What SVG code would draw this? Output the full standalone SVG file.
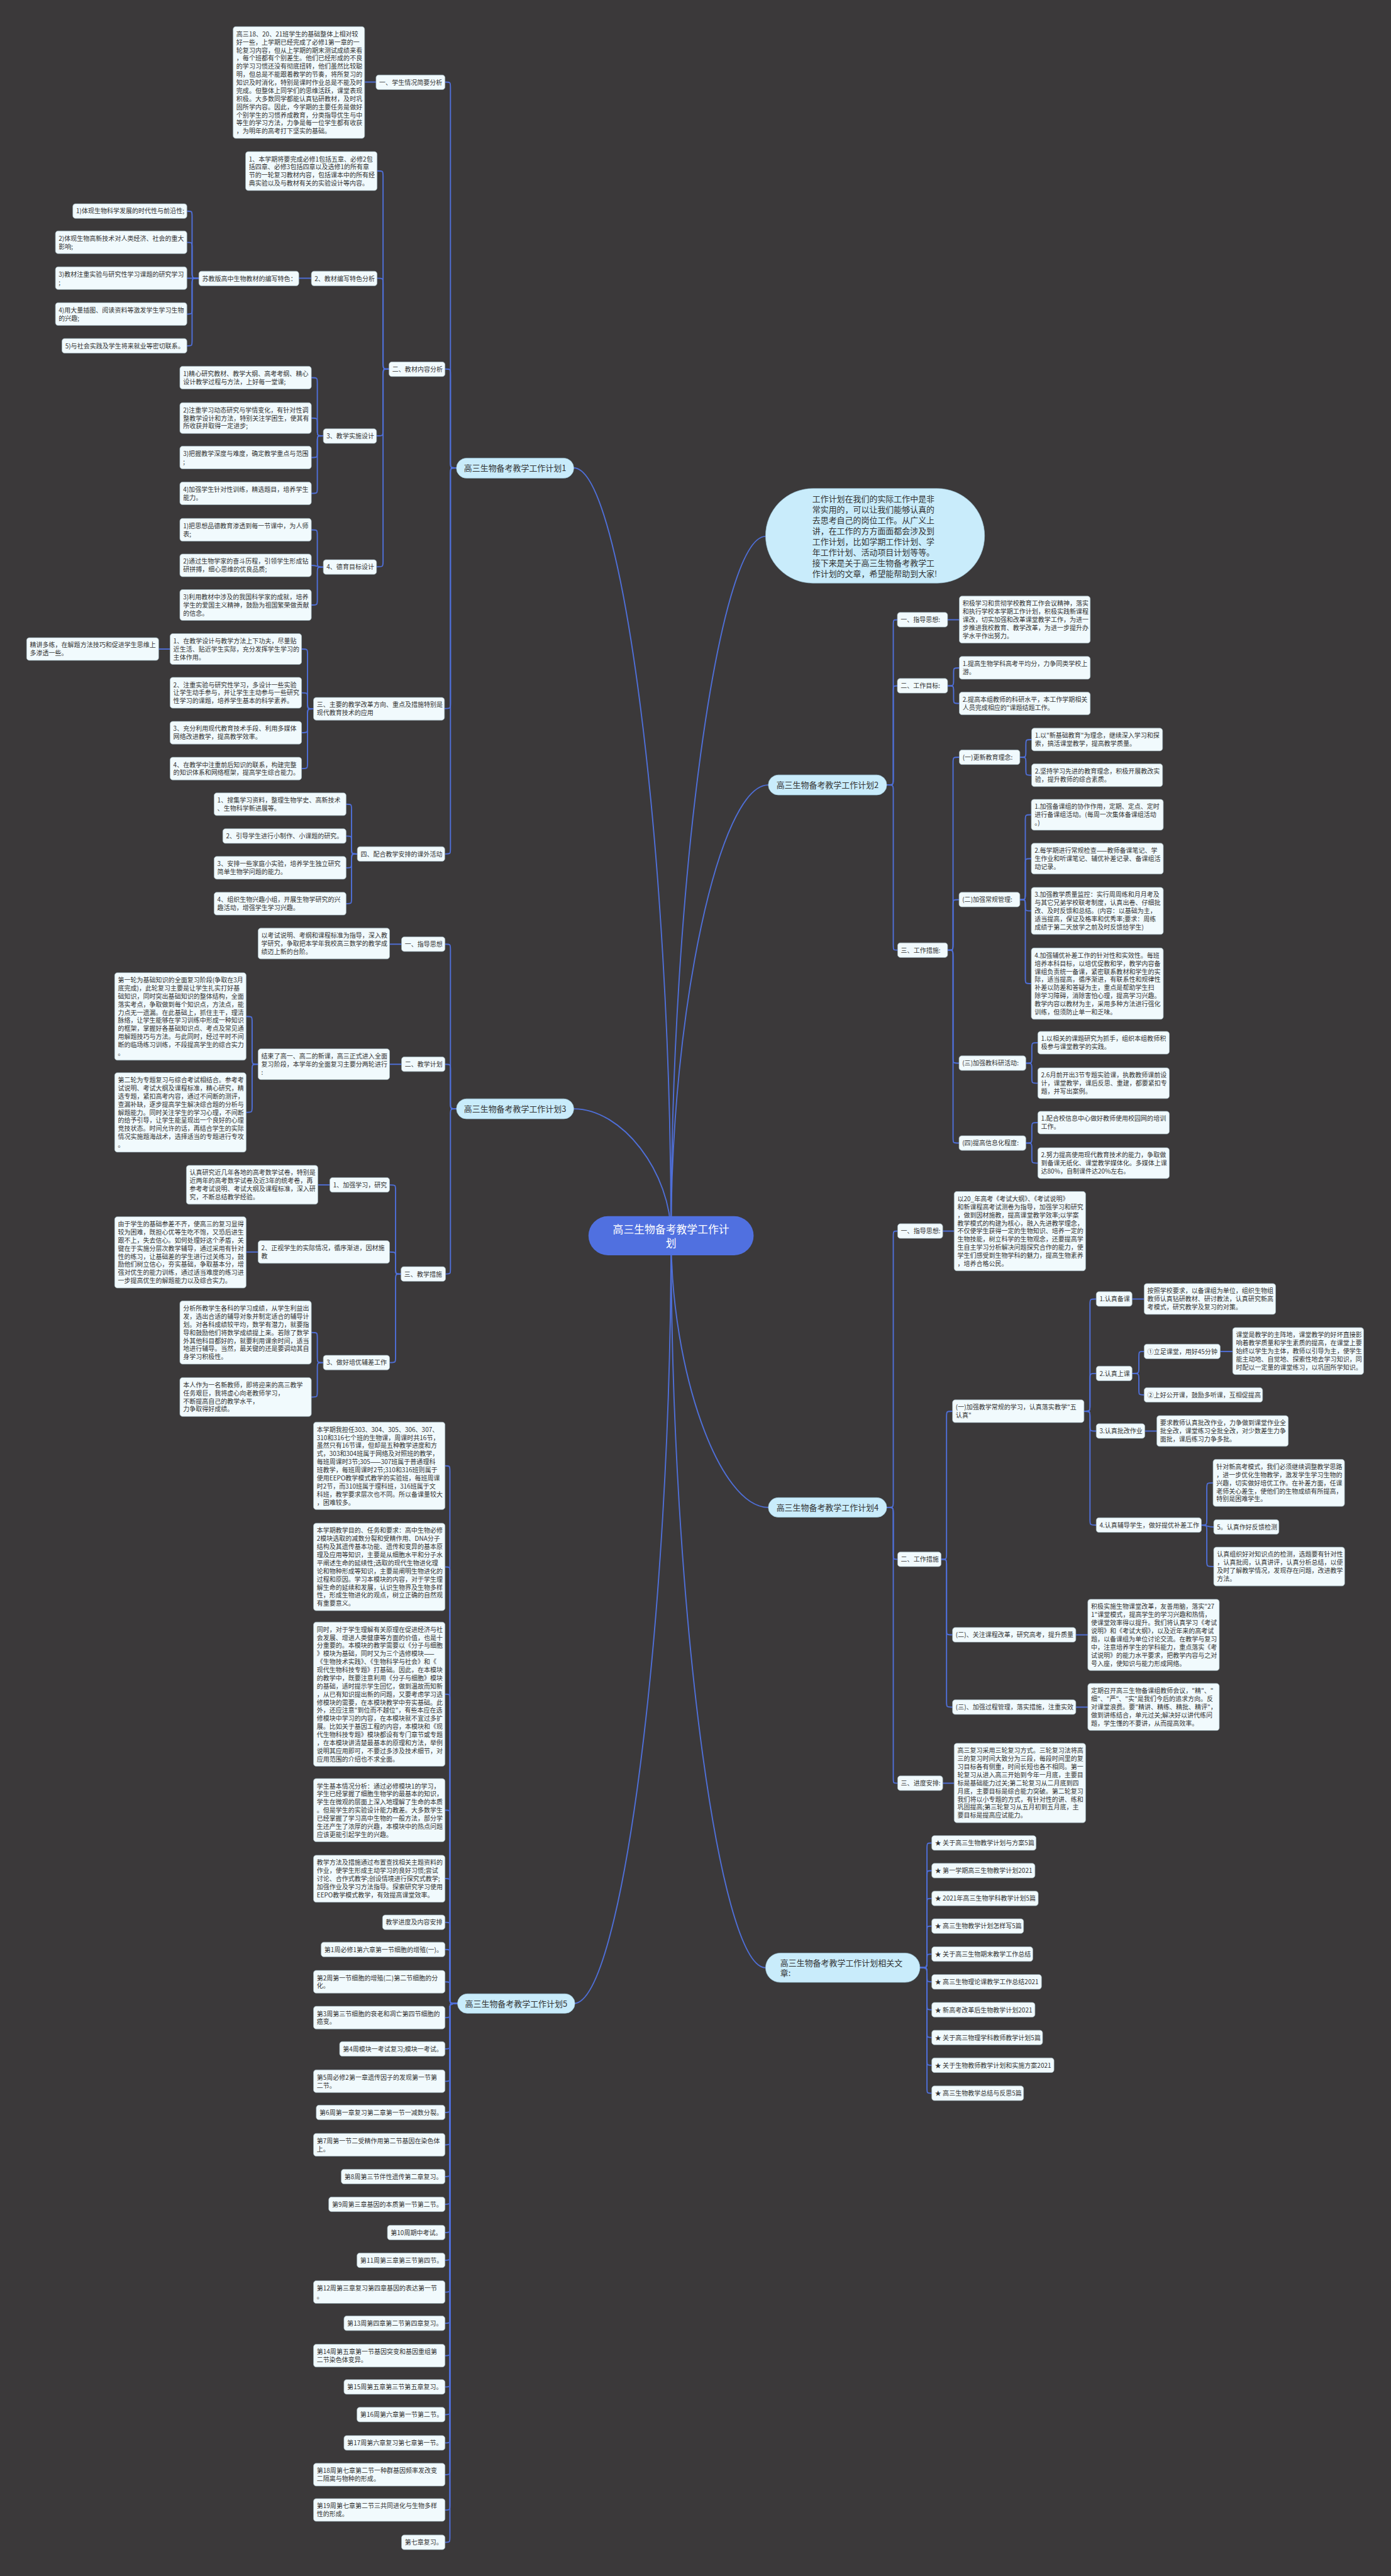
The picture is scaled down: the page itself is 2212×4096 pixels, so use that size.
<svg xmlns="http://www.w3.org/2000/svg" width="2212" height="4096" viewBox="0 0 2212 4096">
<style>
.e path{fill:none;stroke:#4f6fd8;stroke-width:2.2}
.n rect{fill:#f1fafd;stroke:#9fb4bd;stroke-width:0.8}
text{font-family:"Noto Sans CJK SC","Noto Sans",sans-serif;font-size:11.6px;fill:#333}
.t rect{fill:#c9ecfb;stroke:#9cc6d9;stroke-width:0.8}
.t text{font-size:15px}
.c rect{fill:#5070e0}
.c text{font-size:19.5px;fill:#fff}
</style>
<rect width="2212" height="4096" fill="#3b393a"/>
<g transform="scale(0.86406)">
<g id="connectors" class="e">
<path d="M1235,2274 C1235,1567 1145,861 1056,861"/>
<path d="M1235,2274 C1235,1630 1322,987 1409,987"/>
<path d="M1235,2274 C1235,1859 1324,1444.5 1414,1444.5"/>
<path d="M1235,2274 C1235,2157 1145,2040.5 1056,2040.5"/>
<path d="M1235,2274 C1235,2524 1324,2774 1414,2774"/>
<path d="M1235,2274 C1235,2947 1322,3621 1409,3621"/>
<path d="M1235,2274 C1235,2980 1145,3687 1056,3687"/>
<!-- plan1 -->
<path d="M840,861 C829,861 829,861 829,851 L829,161 C829,151 829,151 819,151"/>
<path d="M840,861 C829,861 829,861 829,851 L829,689 C829,679 829,679 819,679"/>
<path d="M840,861 C829,861 829,861 829,871 L829,1294 C829,1304 829,1304 818,1304"/>
<path d="M840,861 C829,861 829,861 829,871 L829,1561.5 C829,1571.5 829,1571.5 819,1571.5"/>
<path d="M692,151 L671,151"/>
<path d="M716,679 C705,679 705,679 705,669 L705,324.5 C705,314.5 705,314.5 694,314.5"/>
<path d="M716,679 C705,679 705,679 705,669 L705,522 C705,512 705,512 694,512"/>
<path d="M716,679 C705,679 705,679 705,689 L705,792 C705,802 705,802 693,802"/>
<path d="M716,679 C705,679 705,679 705,689 L705,1033 C705,1043 705,1043 693,1043"/>
<path d="M573,512 L550,512"/>
<path d="M366,512 C353.5,512 353.5,512 353.5,502 L353.5,398.5 C353.5,388.5 353.5,388.5 344,388.5"/>
<path d="M366,512 C353.5,512 353.5,512 353.5,502 L353.5,456 C353.5,446 353.5,446 344,446"/>
<path d="M366,512 L344,512"/>
<path d="M366,512 C353.5,512 353.5,512 353.5,522 L353.5,568 C353.5,578 353.5,578 344,578"/>
<path d="M366,512 C353.5,512 353.5,512 353.5,522 L353.5,626.5 C353.5,636.5 353.5,636.5 344,636.5"/>
<path d="M595,802 C584,802 584,802 584,792 L584,705 C584,695 584,695 573,695"/>
<path d="M595,802 C584,802 584,802 584,792 L584,779.4 C584,769.4 584,769.4 573,769.4"/>
<path d="M595,802 C584,802 584,802 584,812 L584,832 C584,842 584,842 573,842"/>
<path d="M595,802 C584,802 584,802 584,812 L584,898 C584,908 584,908 573,908"/>
<path d="M595,1043.5 C584,1043.5 584,1043.5 584,1033.5 L584,985 C584,975 584,975 573,975"/>
<path d="M595,1043.5 C584,1043.5 584,1040.4 573,1040.4"/>
<path d="M595,1043.5 C584,1043.5 584,1043.5 584,1053.5 L584,1103.4 C584,1113.4 584,1113.4 573,1113.4"/>
<path d="M577,1304.4 C566,1304.4 566,1304.4 566,1294.4 L566,1204.4 C566,1194.4 566,1194.4 555,1194.4"/>
<path d="M577,1304.4 C566,1304.4 566,1304.4 566,1294.4 L566,1284.9 C566,1274.9 566,1274.9 555,1274.9"/>
<path d="M577,1304.4 C566,1304.4 566,1304.4 566,1314.4 L566,1338.4 C566,1348.4 566,1348.4 555,1348.4"/>
<path d="M577,1304.4 C566,1304.4 566,1304.4 566,1314.4 L566,1404.4 C566,1414.4 566,1414.4 555,1414.4"/>
<path d="M313,1194.4 L292,1194.4"/>
<path d="M657.6,1571.5 C647,1571.5 647,1571.5 647,1561.5 L647,1490 C647,1480 647,1480 637,1480"/>
<path d="M657.6,1571.5 C647,1571.5 647,1571.5 647,1561.5 L647,1548.5 C647,1538.5 647,1538.5 637,1538.5"/>
<path d="M657.6,1571.5 C647,1571.5 647,1571.5 647,1581.5 L647,1587 C647,1597 647,1597 637,1597"/>
<path d="M657.6,1571.5 C647,1571.5 647,1571.5 647,1581.5 L647,1653 C647,1663 647,1663 637,1663"/>
<!-- plan3 -->
<path d="M840,2040.5 C829,2040.5 829,2040.5 829,2030.5 L829,1747.5 C829,1737.5 829,1737.5 819,1737.5"/>
<path d="M840,2040.5 C829,2040.5 829,2040.5 829,2030.5 L829,1968.5 C829,1958.5 829,1958.5 819,1958.5"/>
<path d="M840,2040.5 C829,2040.5 829,2040.5 829,2050.5 L829,2334.5 C829,2344.5 829,2344.5 820,2344.5"/>
<path d="M739,1737.5 L717,1737.5"/>
<path d="M739,1958.5 L717,1958.5"/>
<path d="M475,1958.4 C464,1958.4 464,1958.4 464,1948.4 L464,1880.5 C464,1870.5 464,1870.5 453,1870.5"/>
<path d="M475,1958.4 C464,1958.4 464,1958.4 464,1968.4 L464,2037 C464,2047 464,2047 453,2047"/>
<path d="M738,2344.5 C728,2344.5 728,2344.5 728,2334.5 L728,2190.5 C728,2180.5 728,2180.5 717,2180.5"/>
<path d="M738,2344.5 C728,2344.5 728,2344.5 728,2334.5 L728,2314 C728,2304 728,2304 717,2304"/>
<path d="M738,2344.5 C728,2344.5 728,2344.5 728,2354.5 L728,2497.5 C728,2507.5 728,2507.5 717,2507.5"/>
<path d="M607,2180.5 L585,2180.5"/>
<path d="M475,2304 L453,2304"/>
<path d="M595,2507.5 C584,2507.5 584,2507.5 584,2497.5 L584,2462 C584,2452 584,2452 573,2452"/>
<path d="M595,2507.5 C584,2507.5 584,2507.5 584,2517.5 L584,2561 C584,2571 584,2571 573,2571"/>
<!-- plan5 -->
<path d="M842,3687 C828,3687 828,3687 828,3677 L828,2707.5 C828,2697.5 828,2697.5 819,2697.5"/>
<path d="M842,3687 C828,3687 828,3687 828,3677 L828,2893.5 C828,2883.5 828,2883.5 819,2883.5"/>
<path d="M842,3687 C828,3687 828,3687 828,3677 L828,3127.7 C828,3117.7 828,3117.7 819,3117.7"/>
<path d="M842,3687 C828,3687 828,3687 828,3677 L828,3341 C828,3331 828,3331 819,3331"/>
<path d="M842,3687 C828,3687 828,3687 828,3677 L828,3467 C828,3457 828,3457 819,3457"/>
<path d="M842,3687 C828,3687 828,3687 828,3677 L828,3547.5 C828,3537.5 828,3537.5 819,3537.5"/>
<path d="M842,3687 C828,3687 828,3687 828,3677 L828,3597.5 C828,3587.5 828,3587.5 819,3587.5"/>
<path d="M842,3687 C828,3687 828,3687 828,3677 L828,3657 C828,3647 828,3647 819,3647"/>
<path d="M842,3687 C828,3687 828,3687 828,3697 L828,3703 C828,3713 828,3713 819,3713"/>
<path d="M842,3687 C828,3687 828,3687 828,3697 L828,3760.5 C828,3770.5 828,3770.5 819,3770.5"/>
<path d="M842,3687 C828,3687 828,3687 828,3697 L828,3820 C828,3830 828,3830 819,3830"/>
<path d="M842,3687 C828,3687 828,3687 828,3697 L828,3877.5 C828,3887.5 828,3887.5 819,3887.5"/>
<path d="M842,3687 C828,3687 828,3687 828,3697 L828,3937 C828,3947 828,3947 819,3947"/>
<path d="M842,3687 C828,3687 828,3687 828,3697 L828,3995.5 C828,4005.5 828,4005.5 819,4005.5"/>
<path d="M842,3687 C828,3687 828,3687 828,3697 L828,4046.5 C828,4056.5 828,4056.5 819,4056.5"/>
<path d="M842,3687 C828,3687 828,3687 828,3697 L828,4098.5 C828,4108.5 828,4108.5 819,4108.5"/>
<path d="M842,3687 C828,3687 828,3687 828,3697 L828,4149.5 C828,4159.5 828,4159.5 819,4159.5"/>
<path d="M842,3687 C828,3687 828,3687 828,3697 L828,4208 C828,4218 828,4218 819,4218"/>
<path d="M842,3687 C828,3687 828,3687 828,3697 L828,4265.5 C828,4275.5 828,4275.5 819,4275.5"/>
<path d="M842,3687 C828,3687 828,3687 828,3697 L828,4325 C828,4335 828,4335 819,4335"/>
<path d="M842,3687 C828,3687 828,3687 828,3697 L828,4382.5 C828,4392.5 828,4392.5 819,4392.5"/>
<path d="M842,3687 C828,3687 828,3687 828,3697 L828,4433.5 C828,4443.5 828,4443.5 819,4443.5"/>
<path d="M842,3687 C828,3687 828,3687 828,3697 L828,4485.5 C828,4495.5 828,4495.5 819,4495.5"/>
<path d="M842,3687 C828,3687 828,3687 828,3697 L828,4544 C828,4554 828,4554 819,4554"/>
<path d="M842,3687 C828,3687 828,3687 828,3697 L828,4609 C828,4619 828,4619 819,4619"/>
<path d="M842,3687 C828,3687 828,3687 828,3697 L828,4668.5 C828,4678.5 828,4678.5 819,4678.5"/>
<!-- plan2 -->
<path d="M1632,1444.5 C1644,1444.5 1644,1444.5 1644,1434.5 L1644,1150.5 C1644,1140.5 1644,1140.5 1651.5,1140.5"/>
<path d="M1632,1444.5 C1644,1444.5 1644,1444.5 1644,1434.5 L1644,1272 C1644,1262 1644,1262 1651.5,1262"/>
<path d="M1632,1444.5 C1644,1444.5 1644,1444.5 1644,1454.5 L1644,1738.5 C1644,1748.5 1644,1748.5 1652,1748.5"/>
<path d="M1744,1140.5 L1765.5,1140.5"/>
<path d="M1744,1262 C1755,1262 1755,1262 1755,1252 L1755,1239 C1755,1229 1755,1229 1765.5,1229"/>
<path d="M1744,1262 C1755,1262 1755,1262 1755,1272 L1755,1284.5 C1755,1294.5 1755,1294.5 1765.5,1294.5"/>
<path d="M1744,1748.5 C1754,1748.5 1754,1748.5 1754,1738.5 L1754,1403.5 C1754,1393.5 1754,1393.5 1765.5,1393.5"/>
<path d="M1744,1748.5 C1754,1748.5 1754,1748.5 1754,1738.5 L1754,1665.5 C1754,1655.5 1754,1655.5 1765,1655.5"/>
<path d="M1744,1748.5 C1754,1748.5 1754,1748.5 1754,1758.5 L1754,1946.5 C1754,1956.5 1754,1956.5 1765,1956.5"/>
<path d="M1744,1748.5 C1754,1748.5 1754,1748.5 1754,1758.5 L1754,2093.5 C1754,2103.5 1754,2103.5 1765,2103.5"/>
<path d="M1877,1393.5 C1888,1393.5 1888,1393.5 1888,1383.5 L1888,1371 C1888,1361 1888,1361 1898.6,1361"/>
<path d="M1877,1393.5 C1888,1393.5 1888,1393.5 1888,1403.5 L1888,1416.6 C1888,1426.6 1888,1426.6 1898.6,1426.6"/>
<path d="M1877,1655.5 C1887,1655.5 1887,1655.5 1887,1645.5 L1887,1509.4 C1887,1499.4 1887,1499.4 1898,1499.4"/>
<path d="M1877,1655.5 C1887,1655.5 1887,1655.5 1887,1645.5 L1887,1590 C1887,1580 1887,1580 1898,1580"/>
<path d="M1877,1655.5 C1887,1655.5 1887,1655.5 1887,1665.5 L1887,1666.3 C1887,1676.3 1887,1676.3 1898,1676.3"/>
<path d="M1877,1655.5 C1887,1655.5 1887,1655.5 1887,1665.5 L1887,1800.1 C1887,1810.1 1887,1810.1 1898,1810.1"/>
<path d="M1888,1956.5 C1899,1956.5 1899,1956.5 1899,1946.5 L1899,1928.9 C1899,1918.9 1899,1918.9 1910,1918.9"/>
<path d="M1888,1956.5 C1899,1956.5 1899,1956.5 1899,1966.5 L1899,1983.4 C1899,1993.4 1899,1993.4 1910,1993.4"/>
<path d="M1888,2103.5 C1899,2103.5 1899,2103.5 1899,2093.5 L1899,2075.9 C1899,2065.9 1899,2065.9 1910,2065.9"/>
<path d="M1888,2103.5 C1899,2103.5 1899,2103.5 1899,2113.5 L1899,2130.4 C1899,2140.4 1899,2140.4 1910,2140.4"/>
<!-- plan4 -->
<path d="M1632,2774 C1644,2774 1644,2774 1644,2764 L1644,2275.5 C1644,2265.5 1644,2265.5 1652,2265.5"/>
<path d="M1632,2774 C1644,2774 1644,2774 1644,2784 L1644,2859.5 C1644,2869.5 1644,2869.5 1652,2869.5"/>
<path d="M1632,2774 C1644,2774 1644,2774 1644,2784 L1644,3271.5 C1644,3281.5 1644,3281.5 1652,3281.5"/>
<path d="M1735,2265.5 L1756,2265.5"/>
<path d="M1732,2869.5 C1742,2869.5 1742,2869.5 1742,2859.5 L1742,2607 C1742,2597 1742,2597 1753,2597"/>
<path d="M1732,2869.5 C1742,2869.5 1742,2869.5 1742,2879.5 L1742,2998.5 C1742,3008.5 1742,3008.5 1753,3008.5"/>
<path d="M1732,2869.5 C1742,2869.5 1742,2869.5 1742,2879.5 L1742,3131.5 C1742,3141.5 1742,3141.5 1753,3141.5"/>
<path d="M1995,2597 C2006,2597 2006,2597 2006,2587 L2006,2400.5 C2006,2390.5 2006,2390.5 2017.5,2390.5"/>
<path d="M1995,2597 C2006,2597 2006,2597 2006,2587 L2006,2537.5 C2006,2527.5 2006,2527.5 2017.5,2527.5"/>
<path d="M1995,2597 C2006,2597 2006,2597 2006,2607 L2006,2623.5 C2006,2633.5 2006,2633.5 2017.5,2633.5"/>
<path d="M1995,2597 C2006,2597 2006,2597 2006,2607 L2006,2796.5 C2006,2806.5 2006,2806.5 2017.5,2806.5"/>
<path d="M2083.5,2390.5 L2105.7,2390.5"/>
<path d="M2083.5,2527.5 C2096,2527.5 2096,2527.5 2096,2517.5 L2096,2497 C2096,2487 2096,2487 2105.7,2487"/>
<path d="M2083.5,2527.5 C2096,2527.5 2096,2527.5 2096,2537.5 L2096,2557 C2096,2567 2096,2567 2105.7,2567"/>
<path d="M2245.7,2487 L2268.6,2487"/>
<path d="M2107,2633.5 L2129,2633.5"/>
<path d="M2211,2806.5 C2221,2806.5 2221,2806.5 2221,2796.5 L2221,2738.8 C2221,2728.8 2221,2728.8 2232.5,2728.8"/>
<path d="M2211,2806.5 C2221,2806.5 2221,2810 2233.7,2810"/>
<path d="M2211,2806.5 C2221,2806.5 2221,2806.5 2221,2816.5 L2221,2872.8 C2221,2882.8 2221,2882.8 2233.7,2882.8"/>
<path d="M1980,3008.5 L2002,3008.5"/>
<path d="M1980,3141.5 L2002,3141.5"/>
<path d="M1735,3281.5 L1756,3281.5"/>
<!-- related -->
<path d="M1693,3621 C1706,3621 1706,3621 1706,3611 L1706,3401.5 C1706,3391.5 1706,3391.5 1714.8,3391.5"/>
<path d="M1693,3621 C1706,3621 1706,3621 1706,3611 L1706,3452.5 C1706,3442.5 1706,3442.5 1714.8,3442.5"/>
<path d="M1693,3621 C1706,3621 1706,3621 1706,3611 L1706,3503.5 C1706,3493.5 1706,3493.5 1714.8,3493.5"/>
<path d="M1693,3621 C1706,3621 1706,3621 1706,3611 L1706,3554.5 C1706,3544.5 1706,3544.5 1714.8,3544.5"/>
<path d="M1693,3621 C1706,3621 1706,3621 1706,3611 L1706,3606 C1706,3596 1706,3596 1714.8,3596"/>
<path d="M1693,3621 C1706,3621 1706,3621 1706,3631 L1706,3637 C1706,3647 1706,3647 1714.8,3647"/>
<path d="M1693,3621 C1706,3621 1706,3621 1706,3631 L1706,3688.5 C1706,3698.5 1706,3698.5 1714.8,3698.5"/>
<path d="M1693,3621 C1706,3621 1706,3621 1706,3631 L1706,3739.5 C1706,3749.5 1706,3749.5 1714.8,3749.5"/>
<path d="M1693,3621 C1706,3621 1706,3621 1706,3631 L1706,3790.5 C1706,3800.5 1706,3800.5 1714.8,3800.5"/>
<path d="M1693,3621 C1706,3621 1706,3621 1706,3631 L1706,3842 C1706,3852 1706,3852 1714.8,3852"/>
</g>

<g id="center" class="c" transform="translate(1083,2238)"><rect width="304" height="72" rx="36"/><text x="152" y="31" text-anchor="middle"><tspan>高三生物备考教学工作计</tspan><tspan x="152" dy="25.5">划</tspan></text></g>

<g id="intro" class="t" transform="translate(1409,899)"><rect width="403" height="174" rx="87"/><text x="86" y="24.2"><tspan>工作计划在我们的实际工作中是非</tspan><tspan x="86" dy="19.65">常实用的，可以让我们能够认真的</tspan><tspan x="86" dy="19.65">去思考自己的岗位工作。从广义上</tspan><tspan x="86" dy="19.65">讲，在工作的方方面面都会涉及到</tspan><tspan x="86" dy="19.65">工作计划，比如学期工作计划、学</tspan><tspan x="86" dy="19.65">年工作计划、活动项目计划等等。</tspan><tspan x="86" dy="19.65">接下来是关于高三生物备考教学工</tspan><tspan x="86" dy="19.65">作计划的文章，希望能帮助到大家!</tspan></text></g>

<g id="plan1" class="t" transform="translate(840,843)"><rect width="216" height="37" rx="18.5"/><text x="108" y="24" text-anchor="middle">高三生物备考教学工作计划1</text></g>
<g id="plan2" class="t" transform="translate(1414,1426)"><rect width="218" height="37" rx="18.5"/><text x="109" y="24" text-anchor="middle">高三生物备考教学工作计划2</text></g>
<g id="plan3" class="t" transform="translate(840,2022)"><rect width="216" height="37" rx="18.5"/><text x="108" y="24" text-anchor="middle">高三生物备考教学工作计划3</text></g>
<g id="plan4" class="t" transform="translate(1414,2756)"><rect width="218" height="36" rx="18"/><text x="109" y="23.5" text-anchor="middle">高三生物备考教学工作计划4</text></g>
<g id="plan5" class="t" transform="translate(842,3669)"><rect width="216" height="36" rx="18"/><text x="108" y="23.5" text-anchor="middle">高三生物备考教学工作计划5</text></g>
<g id="related" class="t" transform="translate(1409,3594)"><rect width="284" height="54" rx="27"/><text x="27" y="23.5"><tspan>高三生物备考教学工作计划相关文</tspan><tspan x="27" dy="19">章:</tspan></text></g>

<!-- plan1 nodes -->
<g id="p1-1" class="n" transform="translate(692,138)"><rect width="127" height="26.9" rx="5"/><text x="6" y="17.9">一、学生情况简要分析</text></g>
<g id="p1-1a" class="n" transform="translate(429,49)"><rect width="242" height="205.7" rx="5"/><text x="6" y="17.9"><tspan>高三18、20、21班学生的基础整体上相对较</tspan><tspan x="6" dy="14.9">好一些，上学期已经完成了必修1第一章的一</tspan><tspan x="6" dy="14.9">轮复习内容，但从上学期的期末测试成绩来看</tspan><tspan x="6" dy="14.9">，每个班都有个别差生。他们已经形成的不良</tspan><tspan x="6" dy="14.9">的学习习惯还没有彻底扭转，他们虽然比较聪</tspan><tspan x="6" dy="14.9">明，但总是不能跟着教学的节奏，将所复习的</tspan><tspan x="6" dy="14.9">知识及时消化，特别是课时作业总是不能及时</tspan><tspan x="6" dy="14.9">完成。但整体上同学们的思维活跃，课堂表现</tspan><tspan x="6" dy="14.9">积极。大多数同学都能认真钻研教材，及时巩</tspan><tspan x="6" dy="14.9">固所学内容。因此，今学期的主要任务是做好</tspan><tspan x="6" dy="14.9">个别学生的习惯养成教育，分类指导优生与中</tspan><tspan x="6" dy="14.9">等生的学习方法，力争是每一位学生都有收获</tspan><tspan x="6" dy="14.9">，为明年的高考打下坚实的基础。</tspan></text></g>
<g id="p1-2" class="n" transform="translate(716,666)"><rect width="103" height="26.9" rx="5"/><text x="6" y="17.9">二、教材内容分析</text></g>
<g id="p1-2a" class="n" transform="translate(452,279)"><rect width="242" height="71.6" rx="5"/><text x="6" y="17.9"><tspan>1、本学期将要完成必修1包括五章、必修2包</tspan><tspan x="6" dy="14.9">括四章、必修3包括四章以及选修1的所有章</tspan><tspan x="6" dy="14.9">节的一轮复习教材内容，包括课本中的所有经</tspan><tspan x="6" dy="14.9">典实验以及与教材有关的实验设计等内容。</tspan></text></g>
<g id="p1-2b" class="n" transform="translate(573,499)"><rect width="121" height="26.9" rx="5"/><text x="6" y="17.9">2、教材编写特色分析</text></g>
<g id="p1-2b1" class="n" transform="translate(366,499)"><rect width="184" height="26.9" rx="5"/><text x="6" y="17.9">苏教版高中生物教材的编写特色：</text></g>
<g id="p1-s1" class="n" transform="translate(134,375)"><rect width="210" height="26.9" rx="5"/><text x="6" y="17.9">1)体现生物科学发展的时代性与前沿性;</text></g>
<g id="p1-s2" class="n" transform="translate(102,425)"><rect width="242" height="41.8" rx="5"/><text x="6" y="17.9"><tspan>2)体现生物高新技术对人类经济、社会的重大</tspan><tspan x="6" dy="14.9">影响;</tspan></text></g>
<g id="p1-s3" class="n" transform="translate(102,491)"><rect width="242" height="41.8" rx="5"/><text x="6" y="17.9"><tspan>3)教材注重实验与研究性学习课题的研究学习</tspan><tspan x="6" dy="14.9">;</tspan></text></g>
<g id="p1-s4" class="n" transform="translate(102,557)"><rect width="242" height="41.8" rx="5"/><text x="6" y="17.9"><tspan>4)用大量插图、阅读资料等激发学生学习生物</tspan><tspan x="6" dy="14.9">的兴趣;</tspan></text></g>
<g id="p1-s5" class="n" transform="translate(114,623)"><rect width="230" height="26.9" rx="5"/><text x="6" y="17.9">5)与社会实践及学生将来就业等密切联系。</text></g>
<g id="p1-2c" class="n" transform="translate(595,789)"><rect width="98" height="26.9" rx="5"/><text x="6" y="17.9">3、教学实施设计</text></g>
<g id="p1-t1" class="n" transform="translate(331,674)"><rect width="242" height="41.8" rx="5"/><text x="6" y="17.9"><tspan>1)精心研究教材、教学大纲、高考考纲、精心</tspan><tspan x="6" dy="14.9">设计教学过程与方法，上好每一堂课;</tspan></text></g>
<g id="p1-t2" class="n" transform="translate(331,741)"><rect width="242" height="56.7" rx="5"/><text x="6" y="17.9"><tspan>2)注重学习动态研究与学情变化，有针对性调</tspan><tspan x="6" dy="14.9">整教学设计和方法，特别关注学困生，使其有</tspan><tspan x="6" dy="14.9">所收获并取得一定进步;</tspan></text></g>
<g id="p1-t3" class="n" transform="translate(331,821)"><rect width="242" height="41.8" rx="5"/><text x="6" y="17.9"><tspan>3)把握教学深度与难度，确定教学重点与范围</tspan><tspan x="6" dy="14.9">;</tspan></text></g>
<g id="p1-t4" class="n" transform="translate(331,887)"><rect width="242" height="41.8" rx="5"/><text x="6" y="17.9"><tspan>4)加强学生针对性训练，精选题目，培养学生</tspan><tspan x="6" dy="14.9">能力。</tspan></text></g>
<g id="p1-2d" class="n" transform="translate(595,1030)"><rect width="98" height="26.9" rx="5"/><text x="6" y="17.9">4、德育目标设计</text></g>
<g id="p1-d1" class="n" transform="translate(331,954)"><rect width="242" height="41.8" rx="5"/><text x="6" y="17.9"><tspan>1)把思想品德教育渗透到每一节课中，为人师</tspan><tspan x="6" dy="14.9">表;</tspan></text></g>
<g id="p1-d2" class="n" transform="translate(331,1019.5)"><rect width="242" height="41.8" rx="5"/><text x="6" y="17.9"><tspan>2)通过生物学家的奋斗历程，引领学生形成钻</tspan><tspan x="6" dy="14.9">研拼搏，细心思维的优良品质;</tspan></text></g>
<g id="p1-d3" class="n" transform="translate(331,1085)"><rect width="242" height="56.7" rx="5"/><text x="6" y="17.9"><tspan>3)利用教材中涉及的我国科学家的成就，培养</tspan><tspan x="6" dy="14.9">学生的爱国主义精神，鼓励为祖国繁荣做贡献</tspan><tspan x="6" dy="14.9">的信念。</tspan></text></g>
<g id="p1-3" class="n" transform="translate(577,1283.5)"><rect width="241" height="41.8" rx="5"/><text x="6" y="17.9"><tspan>三、主要的教学改革方向、重点及措施特别是</tspan><tspan x="6" dy="14.9">现代教育技术的应用</tspan></text></g>
<g id="p1-m1" class="n" transform="translate(313,1166)"><rect width="242" height="56.7" rx="5"/><text x="6" y="17.9"><tspan>1、在教学设计与教学方法上下功夫，尽量贴</tspan><tspan x="6" dy="14.9">近生活、贴近学生实际，充分发挥学生学习的</tspan><tspan x="6" dy="14.9">主体作用。</tspan></text></g>
<g id="p1-m1a" class="n" transform="translate(49,1173.5)"><rect width="243" height="41.8" rx="5"/><text x="6" y="17.9"><tspan>精讲多练，在解题方法技巧和促进学生思维上</tspan><tspan x="6" dy="14.9">多渗透一些。</tspan></text></g>
<g id="p1-m2" class="n" transform="translate(313,1246.5)"><rect width="242" height="56.7" rx="5"/><text x="6" y="17.9"><tspan>2、注重实验与研究性学习，多设计一些实验</tspan><tspan x="6" dy="14.9">让学生动手参与，并让学生主动参与一些研究</tspan><tspan x="6" dy="14.9">性学习的课题，培养学生基本的科学素养。</tspan></text></g>
<g id="p1-m3" class="n" transform="translate(313,1327.5)"><rect width="242" height="41.8" rx="5"/><text x="6" y="17.9"><tspan>3、充分利用现代教育技术手段、利用多媒体</tspan><tspan x="6" dy="14.9">网络改进教学，提高教学效率。</tspan></text></g>
<g id="p1-m4" class="n" transform="translate(313,1393.5)"><rect width="242" height="41.8" rx="5"/><text x="6" y="17.9"><tspan>4、在教学中注重前后知识的联系，构建完整</tspan><tspan x="6" dy="14.9">的知识体系和网络框架，提高学生综合能力。</tspan></text></g>
<g id="p1-4" class="n" transform="translate(657.6,1558)"><rect width="161" height="26.9" rx="5"/><text x="6" y="17.9">四、配合教学安排的课外活动</text></g>
<g id="p1-e1" class="n" transform="translate(394,1459)"><rect width="243" height="41.8" rx="5"/><text x="6" y="17.9"><tspan>1、搜集学习资料，整理生物学史、高新技术</tspan><tspan x="6" dy="14.9">、生物科学新进展等。</tspan></text></g>
<g id="p1-e2" class="n" transform="translate(410,1525)"><rect width="227" height="26.9" rx="5"/><text x="6" y="17.9">2、引导学生进行小制作、小课题的研究。</text></g>
<g id="p1-e3" class="n" transform="translate(394,1576)"><rect width="243" height="41.8" rx="5"/><text x="6" y="17.9"><tspan>3、安排一些家庭小实验，培养学生独立研究</tspan><tspan x="6" dy="14.9">简单生物学问题的能力。</tspan></text></g>
<g id="p1-e4" class="n" transform="translate(394,1642)"><rect width="243" height="41.8" rx="5"/><text x="6" y="17.9"><tspan>4、组织生物兴趣小组，开展生物学研究的兴</tspan><tspan x="6" dy="14.9">趣活动，增强学生学习兴趣。</tspan></text></g>

<!-- plan3 nodes -->
<g id="p3-1" class="n" transform="translate(739,1724)"><rect width="80" height="26.9" rx="5"/><text x="6" y="17.9">一、指导思想</text></g>
<g id="p3-1a" class="n" transform="translate(475,1708)"><rect width="242" height="56.7" rx="5"/><text x="6" y="17.9"><tspan>以考试说明、考纲和课程标准为指导，深入教</tspan><tspan x="6" dy="14.9">学研究，争取把本学年我校高三数学的教学成</tspan><tspan x="6" dy="14.9">绩迈上新的台阶。</tspan></text></g>
<g id="p3-2" class="n" transform="translate(739,1945)"><rect width="80" height="26.9" rx="5"/><text x="6" y="17.9">二、教学计划</text></g>
<g id="p3-2a" class="n" transform="translate(475,1930)"><rect width="242" height="56.7" rx="5"/><text x="6" y="17.9"><tspan>结束了高一、高二的新课，高三正式进入全面</tspan><tspan x="6" dy="14.9">复习阶段，本学年的全面复习主要分两轮进行</tspan><tspan x="6" dy="14.9">:</tspan></text></g>
<g id="p3-2b" class="n" transform="translate(211,1790)"><rect width="242" height="161" rx="5"/><text x="6" y="17.9"><tspan>第一轮为基础知识的全面复习阶段(争取在3月</tspan><tspan x="6" dy="14.9">底完成)，此轮复习主要是让学生扎实打好基</tspan><tspan x="6" dy="14.9">础知识，同时突出基础知识的整体结构，全面</tspan><tspan x="6" dy="14.9">落实考点，争取做到每个知识点，方法点，能</tspan><tspan x="6" dy="14.9">力点无一遗漏。在此基础上，抓住主干，理清</tspan><tspan x="6" dy="14.9">脉络，让学生能够在学习训练中形成一种知识</tspan><tspan x="6" dy="14.9">的框架，掌握好各基础知识点、考点及常见通</tspan><tspan x="6" dy="14.9">用解题技巧与方法。与此同时，经过平时不间</tspan><tspan x="6" dy="14.9">断的临场练习训练，不段提高学生的综合实力</tspan><tspan x="6" dy="14.9">。</tspan></text></g>
<g id="p3-2c" class="n" transform="translate(211,1974)"><rect width="242" height="146.1" rx="5"/><text x="6" y="17.9"><tspan>第二轮为专题复习与综合考试相结合。参考考</tspan><tspan x="6" dy="14.9">试说明、考试大纲及课程标准，精心研究，精</tspan><tspan x="6" dy="14.9">选专题，紧扣高考内容，通过不间断的测评，</tspan><tspan x="6" dy="14.9">查漏补缺，逐步提高学生解决综合题的分析与</tspan><tspan x="6" dy="14.9">解题能力。同时关注学生的学习心理，不间断</tspan><tspan x="6" dy="14.9">的给予引导，让学生能呈现出一个良好的心理</tspan><tspan x="6" dy="14.9">竞技状态。时间允许的话，再结合学生的实际</tspan><tspan x="6" dy="14.9">情况实施题海战术，选择适当的专题进行专攻</tspan><tspan x="6" dy="14.9">。</tspan></text></g>
<g id="p3-3" class="n" transform="translate(738,2331)"><rect width="82" height="26.9" rx="5"/><text x="6" y="17.9">三、教学措施</text></g>
<g id="p3-3a" class="n" transform="translate(607,2167)"><rect width="110" height="26.9" rx="5"/><text x="6" y="17.9">1、加强学习，研究</text></g>
<g id="p3-3a1" class="n" transform="translate(343,2144.5)"><rect width="242" height="71.6" rx="5"/><text x="6" y="17.9"><tspan>认真研究近几年各地的高考数学试卷，特别是</tspan><tspan x="6" dy="14.9">近两年的高考数学试卷及近3年的统考卷，再</tspan><tspan x="6" dy="14.9">参考考试说明、考试大纲及课程标准，深入研</tspan><tspan x="6" dy="14.9">究，不断总结教学经验。</tspan></text></g>
<g id="p3-3b" class="n" transform="translate(475,2283)"><rect width="242" height="41.8" rx="5"/><text x="6" y="17.9"><tspan>2、正视学生的实际情况，循序渐进，因材施</tspan><tspan x="6" dy="14.9">教</tspan></text></g>
<g id="p3-3b1" class="n" transform="translate(211,2239)"><rect width="242" height="131.2" rx="5"/><text x="6" y="17.9"><tspan>由于学生的基础参差不齐，使高三的复习显得</tspan><tspan x="6" dy="14.9">较为困难，既担心优等生吃不饱，又恐后进生</tspan><tspan x="6" dy="14.9">跟不上，失去信心。如何处理好这个矛盾，关</tspan><tspan x="6" dy="14.9">键在于实施分层次教学辅导，通过采用有针对</tspan><tspan x="6" dy="14.9">性的练习，让基础差的学生进行过关练习，鼓</tspan><tspan x="6" dy="14.9">励他们树立信心，夯实基础，争取基本分，增</tspan><tspan x="6" dy="14.9">强对优生的能力训练，通过适当难度的练习进</tspan><tspan x="6" dy="14.9">一步提高优生的解题能力以及综合实力。</tspan></text></g>
<g id="p3-3c" class="n" transform="translate(595,2494)"><rect width="122" height="26.9" rx="5"/><text x="6" y="17.9">3、做好培优辅差工作</text></g>
<g id="p3-3c1" class="n" transform="translate(331,2394)"><rect width="242" height="116.3" rx="5"/><text x="6" y="17.9"><tspan>分析所教学生各科的学习成绩，从学生利益出</tspan><tspan x="6" dy="14.9">发，选出合适的辅导对象并制定适合的辅导计</tspan><tspan x="6" dy="14.9">划。对各科成绩较平均，数学有潜力，就要指</tspan><tspan x="6" dy="14.9">导和鼓励他们将数学成绩提上来。若除了数学</tspan><tspan x="6" dy="14.9">外其他科目都好的，就要利用课余时间，适当</tspan><tspan x="6" dy="14.9">地进行辅导。当然，最关键的还是要调动其自</tspan><tspan x="6" dy="14.9">身学习积极性。</tspan></text></g>
<g id="p3-3c2" class="n" transform="translate(331,2535)"><rect width="242" height="71.6" rx="5"/><text x="6" y="17.9"><tspan>本人作为一名新教师，即将迎来的高三教学</tspan><tspan x="6" dy="14.9">任务艰巨，我将虚心向老教师学习，</tspan><tspan x="6" dy="14.9">不断提高自己的教学水平，</tspan><tspan x="6" dy="14.9">力争取得好成绩。</tspan></text></g>

<!-- plan5 nodes -->
<g id="p5-1" class="n" transform="translate(577,2617)"><rect width="242" height="161" rx="5"/><text x="6" y="17.9"><tspan>本学期我担任303、304、305、306、307、</tspan><tspan x="6" dy="14.9">310和316七个班的生物课，周课时共16节，</tspan><tspan x="6" dy="14.9">虽然只有16节课，但却是五种教学进度和方</tspan><tspan x="6" dy="14.9">式，303和304班属于网络及对照班的教学，</tspan><tspan x="6" dy="14.9">每班周课时3节;305——307班属于普通理科</tspan><tspan x="6" dy="14.9">班教学，每班周课时2节;310和316班则属于</tspan><tspan x="6" dy="14.9">使用EEPO教学模式教学的实验班，每班周课</tspan><tspan x="6" dy="14.9">时2节，而310班属于理科班，316班属于文</tspan><tspan x="6" dy="14.9">科班，教学要求层次也不同。所以备课量较大</tspan><tspan x="6" dy="14.9">，困难较多。</tspan></text></g>
<g id="p5-2" class="n" transform="translate(577,2803)"><rect width="242" height="161" rx="5"/><text x="6" y="17.9"><tspan>本学期教学目的、任务和要求：高中生物必修</tspan><tspan x="6" dy="14.9">2模块选取的减数分裂和受精作用、DNA分子</tspan><tspan x="6" dy="14.9">结构及其遗传基本功能、遗传和变异的基本原</tspan><tspan x="6" dy="14.9">理及应用等知识，主要是从细胞水平和分子水</tspan><tspan x="6" dy="14.9">平阐述生命的延续性;选取的现代生物进化理</tspan><tspan x="6" dy="14.9">论和物种形成等知识，主要是阐明生物进化的</tspan><tspan x="6" dy="14.9">过程和原因。学习本模块的内容，对于学生理</tspan><tspan x="6" dy="14.9">解生命的延续和发展，认识生物界及生物多样</tspan><tspan x="6" dy="14.9">性，形成生物进化的观点，树立正确的自然观</tspan><tspan x="6" dy="14.9">有重要意义。</tspan></text></g>
<g id="p5-3" class="n" transform="translate(577,2985)"><rect width="242" height="265.3" rx="5"/><text x="6" y="17.9"><tspan>同时，对于学生理解有关原理在促进经济与社</tspan><tspan x="6" dy="14.9">会发展、增进人类健康等方面的价值，也是十</tspan><tspan x="6" dy="14.9">分重要的。本模块的教学需要以《分子与细胞</tspan><tspan x="6" dy="14.9">》模块为基础，同时又为三个选修模块——</tspan><tspan x="6" dy="14.9">《生物技术实践》、《生物科学与社会》和《</tspan><tspan x="6" dy="14.9">现代生物科技专题》打基础。因此，在本模块</tspan><tspan x="6" dy="14.9">的教学中，既要注意利用《分子与细胞》模块</tspan><tspan x="6" dy="14.9">的基础，适时提示学生回忆，做到温故而知新</tspan><tspan x="6" dy="14.9">，从已有知识提出新的问题，又要考虑学习选</tspan><tspan x="6" dy="14.9">修模块的需要，在本模块教学中夯实基础。此</tspan><tspan x="6" dy="14.9">外，还应注意"到位而不越位"，有些本应在选</tspan><tspan x="6" dy="14.9">修模块中学习的内容，在本模块就不宜过多扩</tspan><tspan x="6" dy="14.9">展。比如关于基因工程的内容，本模块和《现</tspan><tspan x="6" dy="14.9">代生物科技专题》模块都设有专门章节或专题</tspan><tspan x="6" dy="14.9">，在本模块讲清楚最基本的原理和方法，举例</tspan><tspan x="6" dy="14.9">说明其应用即可，不要过多涉及技术细节，对</tspan><tspan x="6" dy="14.9">应用范围的介绍也不求全面。</tspan></text></g>
<g id="p5-4" class="n" transform="translate(577,3273)"><rect width="242" height="116.3" rx="5"/><text x="6" y="17.9"><tspan>学生基本情况分析：通过必修模块1的学习，</tspan><tspan x="6" dy="14.9">学生已经掌握了细胞生物学的最基本的知识，</tspan><tspan x="6" dy="14.9">学生在微观的层面上深入地理解了生命的本质</tspan><tspan x="6" dy="14.9">。但是学生的实验设计能力教差。大多数学生</tspan><tspan x="6" dy="14.9">已经掌握了学习高中生物的一般方法，部分学</tspan><tspan x="6" dy="14.9">生还产生了浓厚的兴趣，本模块中的热点问题</tspan><tspan x="6" dy="14.9">应该更能引起学生的兴趣。</tspan></text></g>
<g id="p5-5" class="n" transform="translate(577,3414)"><rect width="242" height="86.5" rx="5"/><text x="6" y="17.9"><tspan>教学方法及措施通过布置查找相关主题资料的</tspan><tspan x="6" dy="14.9">作业，使学生形成主动学习的良好习惯;尝试</tspan><tspan x="6" dy="14.9">讨论、合作式教学;创设情境进行探究式教学;</tspan><tspan x="6" dy="14.9">加强作业及学习方法指导。探索研究学习使用</tspan><tspan x="6" dy="14.9">EEPO教学模式教学，有效提高课堂效率。</tspan></text></g>
<g id="p5-6" class="n" transform="translate(704,3524)"><rect width="115" height="26.9" rx="5"/><text x="6" y="17.9">教学进度及内容安排</text></g>
<g id="p5-w1" class="n" transform="translate(591,3574)"><rect width="228" height="26.9" rx="5"/><text x="6" y="17.9">第1周必修1第六章第一节细胞的增殖(一)。</text></g>
<g id="p5-w2" class="n" transform="translate(577,3626)"><rect width="242" height="41.8" rx="5"/><text x="6" y="17.9"><tspan>第2周第一节细胞的增殖(二)第二节细胞的分</tspan><tspan x="6" dy="14.9">化。</tspan></text></g>
<g id="p5-w3" class="n" transform="translate(577,3692)"><rect width="242" height="41.8" rx="5"/><text x="6" y="17.9"><tspan>第3周第三节细胞的衰老和凋亡第四节细胞的</tspan><tspan x="6" dy="14.9">癌变。</tspan></text></g>
<g id="p5-w4" class="n" transform="translate(625,3757)"><rect width="194" height="26.9" rx="5"/><text x="6" y="17.9">第4周模块一考试复习;模块一考试。</text></g>
<g id="p5-w5" class="n" transform="translate(577,3809)"><rect width="242" height="41.8" rx="5"/><text x="6" y="17.9"><tspan>第5周必修2第一章遗传因子的发现第一节第</tspan><tspan x="6" dy="14.9">二节。</tspan></text></g>
<g id="p5-w6" class="n" transform="translate(582,3874)"><rect width="237" height="26.9" rx="5"/><text x="6" y="17.9">第6周第一章复习第二章第一节一减数分裂。</text></g>
<g id="p5-w7" class="n" transform="translate(577,3926)"><rect width="242" height="41.8" rx="5"/><text x="6" y="17.9"><tspan>第7周第一节二受精作用第二节基因在染色体</tspan><tspan x="6" dy="14.9">上。</tspan></text></g>
<g id="p5-w8" class="n" transform="translate(628,3992)"><rect width="191" height="26.9" rx="5"/><text x="6" y="17.9">第8周第三节伴性遗传第二章复习。</text></g>
<g id="p5-w9" class="n" transform="translate(605,4043)"><rect width="214" height="26.9" rx="5"/><text x="6" y="17.9">第9周第三章基因的本质第一节第二节。</text></g>
<g id="p5-w10" class="n" transform="translate(713,4095)"><rect width="106" height="26.9" rx="5"/><text x="6" y="17.9">第10周期中考试。</text></g>
<g id="p5-w11" class="n" transform="translate(657,4146)"><rect width="162" height="26.9" rx="5"/><text x="6" y="17.9">第11周第三章第三节第四节。</text></g>
<g id="p5-w12" class="n" transform="translate(577,4197)"><rect width="242" height="41.8" rx="5"/><text x="6" y="17.9"><tspan>第12周第三章复习第四章基因的表达第一节</tspan><tspan x="6" dy="14.9">。</tspan></text></g>
<g id="p5-w13" class="n" transform="translate(633,4262)"><rect width="186" height="26.9" rx="5"/><text x="6" y="17.9">第13周第四章第二节第四章复习。</text></g>
<g id="p5-w14" class="n" transform="translate(577,4314)"><rect width="242" height="41.8" rx="5"/><text x="6" y="17.9"><tspan>第14周第五章第一节基因突变和基因重组第</tspan><tspan x="6" dy="14.9">二节染色体变异。</tspan></text></g>
<g id="p5-w15" class="n" transform="translate(633,4379)"><rect width="186" height="26.9" rx="5"/><text x="6" y="17.9">第15周第五章第三节第五章复习。</text></g>
<g id="p5-w16" class="n" transform="translate(657,4430)"><rect width="162" height="26.9" rx="5"/><text x="6" y="17.9">第16周第六章第一节第二节。</text></g>
<g id="p5-w17" class="n" transform="translate(633,4482)"><rect width="186" height="26.9" rx="5"/><text x="6" y="17.9">第17周第六章复习第七章第一节。</text></g>
<g id="p5-w18" class="n" transform="translate(577,4533)"><rect width="242" height="41.8" rx="5"/><text x="6" y="17.9"><tspan>第18周第七章第二节一种群基因频率发改变</tspan><tspan x="6" dy="14.9">二隔离与物种的形成。</tspan></text></g>
<g id="p5-w19" class="n" transform="translate(577,4598)"><rect width="242" height="41.8" rx="5"/><text x="6" y="17.9"><tspan>第19周第七章第二节三共同进化与生物多样</tspan><tspan x="6" dy="14.9">性的形成。</tspan></text></g>
<g id="p5-w20" class="n" transform="translate(739,4665)"><rect width="80" height="26.9" rx="5"/><text x="6" y="17.9">第七章复习。</text></g>

<!-- plan2 nodes -->
<g id="p2-1" class="n" transform="translate(1651.5,1127)"><rect width="92.5" height="26.9" rx="5"/><text x="6" y="17.9">一、指导思想:</text></g>
<g id="p2-1a" class="n" transform="translate(1765.5,1097)"><rect width="241" height="86.5" rx="5"/><text x="6" y="17.9"><tspan>积极学习和贯彻学校教育工作会议精神，落实</tspan><tspan x="6" dy="14.9">和执行学校本学期工作计划，积极实践新课程</tspan><tspan x="6" dy="14.9">课改，切实加强和改革课堂教学工作，为进一</tspan><tspan x="6" dy="14.9">步推进我校教育、教学改革，为进一步提升办</tspan><tspan x="6" dy="14.9">学水平作出努力。</tspan></text></g>
<g id="p2-2" class="n" transform="translate(1651.5,1248.6)"><rect width="92.5" height="26.9" rx="5"/><text x="6" y="17.9">二、工作目标:</text></g>
<g id="p2-2a" class="n" transform="translate(1765.5,1208)"><rect width="241" height="41.8" rx="5"/><text x="6" y="17.9"><tspan>1.提高生物学科高考平均分，力争同类学校上</tspan><tspan x="6" dy="14.9">游。</tspan></text></g>
<g id="p2-2b" class="n" transform="translate(1765.5,1273.6)"><rect width="241" height="41.8" rx="5"/><text x="6" y="17.9"><tspan>2.提高本组教师的科研水平，本工作学期相关</tspan><tspan x="6" dy="14.9">人员完成相应的"课题结题工作。</tspan></text></g>
<g id="p2-3" class="n" transform="translate(1652,1735)"><rect width="92" height="26.9" rx="5"/><text x="6" y="17.9">三、工作措施:</text></g>
<g id="p2-3a" class="n" transform="translate(1765.5,1380)"><rect width="111.5" height="26.9" rx="5"/><text x="6" y="17.9">(一)更新教育理念:</text></g>
<g id="p2-3a1" class="n" transform="translate(1898.6,1340)"><rect width="241" height="41.8" rx="5"/><text x="6" y="17.9"><tspan>1.以"新基础教育"为理念，继续深入学习和探</tspan><tspan x="6" dy="14.9">索，搞活课堂教学，提高教学质量。</tspan></text></g>
<g id="p2-3a2" class="n" transform="translate(1898.6,1405.7)"><rect width="241" height="41.8" rx="5"/><text x="6" y="17.9"><tspan>2.坚持学习先进的教育理念，积极开展教改实</tspan><tspan x="6" dy="14.9">验，提升教师的综合素质。</tspan></text></g>
<g id="p2-3b" class="n" transform="translate(1765,1642)"><rect width="112" height="26.9" rx="5"/><text x="6" y="17.9">(二)加强常规管理:</text></g>
<g id="p2-3b1" class="n" transform="translate(1898,1471)"><rect width="243" height="56.7" rx="5"/><text x="6" y="17.9"><tspan>1.加强备课组的协作作用，定期、定点、定时</tspan><tspan x="6" dy="14.9">进行备课组活动。(每周一次集体备课组活动</tspan><tspan x="6" dy="14.9">。)</tspan></text></g>
<g id="p2-3b2" class="n" transform="translate(1898,1551.7)"><rect width="243" height="56.7" rx="5"/><text x="6" y="17.9"><tspan>2.每学期进行常规检查——教师备课笔记、学</tspan><tspan x="6" dy="14.9">生作业和听课笔记、辅优补差记录、备课组活</tspan><tspan x="6" dy="14.9">动记录。</tspan></text></g>
<g id="p2-3b3" class="n" transform="translate(1898,1633)"><rect width="243" height="86.5" rx="5"/><text x="6" y="17.9"><tspan>3.加强教学质量监控：实行周周练和月月考及</tspan><tspan x="6" dy="14.9">与其它兄弟学校联考制度，认真出卷、仔细批</tspan><tspan x="6" dy="14.9">改、及时反馈和总结。(内容：以基础为主，</tspan><tspan x="6" dy="14.9">适当提高，保证及格率和优秀率;要求：周练</tspan><tspan x="6" dy="14.9">成绩于第二天放学之前及时反馈给学生)</tspan></text></g>
<g id="p2-3b4" class="n" transform="translate(1898,1744.5)"><rect width="243" height="131.2" rx="5"/><text x="6" y="17.9"><tspan>4.加强辅优补差工作的针对性和实效性。每班</tspan><tspan x="6" dy="14.9">培养本科目标，以培优促教和学，教学内容备</tspan><tspan x="6" dy="14.9">课组负责统一备课，紧密联系教材和学生的实</tspan><tspan x="6" dy="14.9">际，适当提高，循序渐进，有联系性和规律性</tspan><tspan x="6" dy="14.9">补差以防差和答疑为主，重点是帮助学生扫</tspan><tspan x="6" dy="14.9">除学习障碍，消除害怕心理，提高学习兴趣。</tspan><tspan x="6" dy="14.9">教学内容以教材为主，采用多种方法进行强化</tspan><tspan x="6" dy="14.9">训练，但须防止单一和乏味。</tspan></text></g>
<g id="p2-3c" class="n" transform="translate(1765,1943)"><rect width="123" height="26.9" rx="5"/><text x="6" y="17.9">(三)加强教科研活动:</text></g>
<g id="p2-3c1" class="n" transform="translate(1910,1898)"><rect width="242" height="41.8" rx="5"/><text x="6" y="17.9"><tspan>1.以相关的课题研究为抓手，组织本组教师积</tspan><tspan x="6" dy="14.9">极参与课堂教学的实践。</tspan></text></g>
<g id="p2-3c2" class="n" transform="translate(1910,1965)"><rect width="242" height="56.7" rx="5"/><text x="6" y="17.9"><tspan>2.6月前开出3节专题实验课，执教教师课前设</tspan><tspan x="6" dy="14.9">计，课堂教学，课后反思、重建，都要紧扣专</tspan><tspan x="6" dy="14.9">题，并写出案例。</tspan></text></g>
<g id="p2-3d" class="n" transform="translate(1765,2090)"><rect width="123" height="26.9" rx="5"/><text x="6" y="17.9">(四)提高信息化程度:</text></g>
<g id="p2-3d1" class="n" transform="translate(1910,2045)"><rect width="242" height="41.8" rx="5"/><text x="6" y="17.9"><tspan>1.配合校信息中心做好教师使用校园网的培训</tspan><tspan x="6" dy="14.9">工作。</tspan></text></g>
<g id="p2-3d2" class="n" transform="translate(1910,2112)"><rect width="242" height="56.7" rx="5"/><text x="6" y="17.9"><tspan>2.努力提高使用现代教育技术的能力，争取做</tspan><tspan x="6" dy="14.9">到备课无纸化、课堂教学媒体化。多媒体上课</tspan><tspan x="6" dy="14.9">达80%，自制课件达20%左右。</tspan></text></g>

<!-- plan4 nodes -->
<g id="p4-1" class="n" transform="translate(1652,2252)"><rect width="83" height="26.9" rx="5"/><text x="6" y="17.9">一、指导思想:</text></g>
<g id="p4-1a" class="n" transform="translate(1756,2192.5)"><rect width="242" height="146.1" rx="5"/><text x="6" y="17.9"><tspan>以20_年高考《考试大纲》、《考试说明》</tspan><tspan x="6" dy="14.9">和新课程高考试测卷为指导，加强学习和研究</tspan><tspan x="6" dy="14.9">，做到因材施教，提高课堂教学效率;以学案</tspan><tspan x="6" dy="14.9">教学模式的构建为核心，融入先进教学理念，</tspan><tspan x="6" dy="14.9">不仅使学生获得一定的生物知识、培养一定的</tspan><tspan x="6" dy="14.9">生物技能，树立科学的生物观念，还要提高学</tspan><tspan x="6" dy="14.9">生自主学习分析解决问题探究合作的能力，使</tspan><tspan x="6" dy="14.9">学生们感受到生物学科的魅力，提高生物素养</tspan><tspan x="6" dy="14.9">，培养合格公民。</tspan></text></g>
<g id="p4-2" class="n" transform="translate(1652,2856)"><rect width="80" height="26.9" rx="5"/><text x="6" y="17.9">二、工作措施</text></g>
<g id="p4-2a" class="n" transform="translate(1753,2576)"><rect width="242" height="41.8" rx="5"/><text x="6" y="17.9"><tspan>(一)加强教学常规的学习，认真落实教学"五</tspan><tspan x="6" dy="14.9">认真"</tspan></text></g>
<g id="p4-2a1" class="n" transform="translate(2017.5,2377)"><rect width="66" height="26.9" rx="5"/><text x="6" y="17.9">1.认真备课</text></g>
<g id="p4-2a1a" class="n" transform="translate(2105.7,2362)"><rect width="242" height="56.7" rx="5"/><text x="6" y="17.9"><tspan>按照学校要求，以备课组为单位，组织生物组</tspan><tspan x="6" dy="14.9">教师认真钻研教材、研讨教法，认真研究新高</tspan><tspan x="6" dy="14.9">考模式，研究教学及复习的对策。</tspan></text></g>
<g id="p4-2a2" class="n" transform="translate(2017.5,2514)"><rect width="66" height="26.9" rx="5"/><text x="6" y="17.9">2.认真上课</text></g>
<g id="p4-2a2a" class="n" transform="translate(2105.7,2473.5)"><rect width="140" height="26.9" rx="5"/><text x="6" y="17.9">①立足课堂，用好45分钟</text></g>
<g id="p4-2a2a1" class="n" transform="translate(2268.6,2443)"><rect width="241" height="86.5" rx="5"/><text x="6" y="17.9"><tspan>课堂是教学的主阵地，课堂教学的好坏直接影</tspan><tspan x="6" dy="14.9">响着教学质量和学生素质的提高，在课堂上要</tspan><tspan x="6" dy="14.9">始终以学生为主体，教师以引导为主，使学生</tspan><tspan x="6" dy="14.9">能主动地、自觉地、探索性地去学习知识，同</tspan><tspan x="6" dy="14.9">时配以一定量的课堂练习，以巩固所学知识。</tspan></text></g>
<g id="p4-2a2b" class="n" transform="translate(2105.7,2553.5)"><rect width="218" height="26.9" rx="5"/><text x="6" y="17.9">②上好公开课，鼓励多听课，互相促提高</text></g>
<g id="p4-2a3" class="n" transform="translate(2017.5,2620)"><rect width="89.5" height="26.9" rx="5"/><text x="6" y="17.9">3.认真批改作业</text></g>
<g id="p4-2a3a" class="n" transform="translate(2129,2605)"><rect width="242" height="56.7" rx="5"/><text x="6" y="17.9"><tspan>要求教师认真批改作业，力争做到课堂作业全</tspan><tspan x="6" dy="14.9">批全改，课堂练习全批全改，对少数差生力争</tspan><tspan x="6" dy="14.9">面批，课后练习力争多批。</tspan></text></g>
<g id="p4-2a4" class="n" transform="translate(2017.5,2793)"><rect width="193.5" height="26.9" rx="5"/><text x="6" y="17.9">4.认真辅导学生，做好提优补差工作</text></g>
<g id="p4-2a4a" class="n" transform="translate(2232.5,2685.5)"><rect width="242" height="86.5" rx="5"/><text x="6" y="17.9"><tspan>针对新高考模式，我们必须继续调整教学思路</tspan><tspan x="6" dy="14.9">，进一步优化生物教学，激发学生学习生物的</tspan><tspan x="6" dy="14.9">兴趣，切实做好培优工作。在补差方面，任课</tspan><tspan x="6" dy="14.9">老师关心差生，使他们的生物成绩有所提高，</tspan><tspan x="6" dy="14.9">特别是困难学生。</tspan></text></g>
<g id="p4-2a4b" class="n" transform="translate(2233.7,2796.5)"><rect width="120" height="26.9" rx="5"/><text x="6" y="17.9">5。认真作好反馈检测</text></g>
<g id="p4-2a4c" class="n" transform="translate(2233.7,2847)"><rect width="241" height="71.6" rx="5"/><text x="6" y="17.9"><tspan>认真组织好对知识点的检测，选题要有针对性</tspan><tspan x="6" dy="14.9">，认真批阅，认真讲评，认真分析总结，以便</tspan><tspan x="6" dy="14.9">及时了解教学情况，发现存在问题，改进教学</tspan><tspan x="6" dy="14.9">方法。</tspan></text></g>
<g id="p4-2b" class="n" transform="translate(1753,2995)"><rect width="227" height="26.9" rx="5"/><text x="6" y="17.9">(二)、关注课程改革，研究高考，提升质量</text></g>
<g id="p4-2b1" class="n" transform="translate(2002,2943)"><rect width="242" height="131.2" rx="5"/><text x="6" y="17.9"><tspan>积极实施生物课堂改革，友善用脑，落实"27</tspan><tspan x="6" dy="14.9">1"课堂模式，提高学生的学习兴趣和热情，</tspan><tspan x="6" dy="14.9">使课堂效率得以提升。我们将认真学习《考试</tspan><tspan x="6" dy="14.9">说明》和《考试大纲》，以及近年来的高考试</tspan><tspan x="6" dy="14.9">题，以备课组为单位讨论交流。在教学与复习</tspan><tspan x="6" dy="14.9">中，注意培养学生的学科能力，重点落实《考</tspan><tspan x="6" dy="14.9">试说明》的能力水平要求，把教学内容与之对</tspan><tspan x="6" dy="14.9">号入座，使知识与能力形成网络。</tspan></text></g>
<g id="p4-2c" class="n" transform="translate(1753,3128)"><rect width="227" height="26.9" rx="5"/><text x="6" y="17.9">(三)、加强过程管理，落实措施，注重实效</text></g>
<g id="p4-2c1" class="n" transform="translate(2002,3098)"><rect width="242" height="86.5" rx="5"/><text x="6" y="17.9"><tspan>定期召开高三生物备课组教师会议，"精"、"</tspan><tspan x="6" dy="14.9">细"、"严"、"实"是我们今后的追求方向。反</tspan><tspan x="6" dy="14.9">对课堂浪费。要"精讲、精练、精批、精评"，</tspan><tspan x="6" dy="14.9">做到讲练结合，单元过关;解决好以讲代练问</tspan><tspan x="6" dy="14.9">题，学生懂的不要讲，从而提高效率。</tspan></text></g>
<g id="p4-3" class="n" transform="translate(1652,3268)"><rect width="83" height="26.9" rx="5"/><text x="6" y="17.9">三、进度安排:</text></g>
<g id="p4-3a" class="n" transform="translate(1756,3208)"><rect width="242" height="146.1" rx="5"/><text x="6" y="17.9"><tspan>高三复习采用三轮复习方式。三轮复习法将高</tspan><tspan x="6" dy="14.9">三的复习时间大致分为三段，每段时间里的复</tspan><tspan x="6" dy="14.9">习目标各有侧重，时间长短也各不相同。第一</tspan><tspan x="6" dy="14.9">轮复习从进入高三开始到今年一月底，主要目</tspan><tspan x="6" dy="14.9">标是基础能力过关;第二轮复习从二月底到四</tspan><tspan x="6" dy="14.9">月底，主要目标是综合能力突破。第二轮复习</tspan><tspan x="6" dy="14.9">我们将以小专题的方式，有针对性的讲、练和</tspan><tspan x="6" dy="14.9">巩固提高;第三轮复习从五月初到五月底，主</tspan><tspan x="6" dy="14.9">要目标是提高应试能力。</tspan></text></g>

<!-- related nodes -->
<g id="r1" class="n" transform="translate(1714.8,3378)"><rect width="192" height="26.9" rx="5"/><text x="6" y="17.9">★ 关于高三生物教学计划与方案5篇</text></g>
<g id="r2" class="n" transform="translate(1714.8,3429)"><rect width="190" height="26.9" rx="5"/><text x="6" y="17.9">★ 第一学期高三生物教学计划2021</text></g>
<g id="r3" class="n" transform="translate(1714.8,3480)"><rect width="196" height="26.9" rx="5"/><text x="6" y="17.9">★ 2021年高三生物学科教学计划5篇</text></g>
<g id="r4" class="n" transform="translate(1714.8,3531)"><rect width="169" height="26.9" rx="5"/><text x="6" y="17.9">★ 高三生物教学计划怎样写5篇</text></g>
<g id="r5" class="n" transform="translate(1714.8,3582.5)"><rect width="186" height="26.9" rx="5"/><text x="6" y="17.9">★ 关于高三生物期末教学工作总结</text></g>
<g id="r6" class="n" transform="translate(1714.8,3633.6)"><rect width="202" height="26.9" rx="5"/><text x="6" y="17.9">★ 高三生物理论课教学工作总结2021</text></g>
<g id="r7" class="n" transform="translate(1714.8,3685)"><rect width="190" height="26.9" rx="5"/><text x="6" y="17.9">★ 新高考改革后生物教学计划2021</text></g>
<g id="r8" class="n" transform="translate(1714.8,3736)"><rect width="204" height="26.9" rx="5"/><text x="6" y="17.9">★ 关于高三物理学科教师教学计划5篇</text></g>
<g id="r9" class="n" transform="translate(1714.8,3787)"><rect width="225" height="26.9" rx="5"/><text x="6" y="17.9">★ 关于生物教师教学计划和实施方案2021</text></g>
<g id="r10" class="n" transform="translate(1714.8,3838.6)"><rect width="169" height="26.9" rx="5"/><text x="6" y="17.9">★ 高三生物教学总结与反思5篇</text></g>
</g>
</svg>
